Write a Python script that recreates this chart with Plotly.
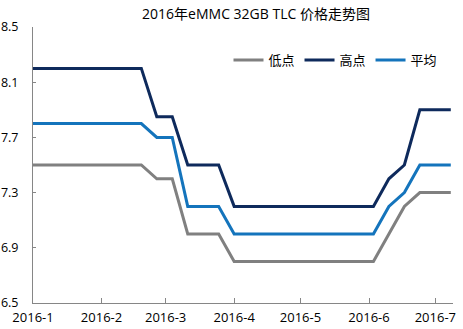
import plotly.graph_objects as go
import pandas as pd

dates = pd.date_range("2016-01-01", periods=28, freq="7D")
low = [7.5]*8 + [7.4, 7.4] + [7.0]*3 + [6.8]*10 + [7.0, 7.2] + [7.3]*3
high = [8.2]*8 + [7.85, 7.85] + [7.5]*3 + [7.2]*10 + [7.4, 7.5] + [7.9]*3
avg = [7.8]*8 + [7.7, 7.7] + [7.2]*3 + [7.0]*10 + [7.2, 7.3] + [7.5]*3

month_ticks = pd.date_range("2016-01-01", periods=7, freq="MS")
month_labels = ["2016-1", "2016-2", "2016-3", "2016-4", "2016-5", "2016-6", "2016-7"]
y_ticks = [6.5, 6.9, 7.3, 7.7, 8.1, 8.5]

font = "Open Sans, Noto Sans CJK SC, sans-serif"

fig = go.Figure()
for name, vals, color in [("低点", low, "#808080"), ("高点", high, "#0E2A5C"), ("平均", avg, "#1474BC")]:
    fig.add_trace(go.Scatter(x=dates, y=vals, name=name, mode="lines",
                             line=dict(color=color, width=3)))

fig.update_layout(
    width=463, height=329,
    margin=dict(l=33, r=10, t=27, b=26),
    paper_bgcolor="white", plot_bgcolor="white",
    font=dict(family=font, size=13, color="#000000"),
    title=dict(text="2016年eMMC 32GB TLC 价格走势图", x=0.553, xanchor="center",
               y=0.957, yanchor="middle", font=dict(family=font, size=14)),
    showlegend=True,
    legend=dict(orientation="h", x=0.975, xanchor="right", y=0.88, yanchor="middle",
                font=dict(family=font, size=13), bgcolor="rgba(0,0,0,0)",
                itemwidth=30, tracegroupgap=0),
)
fig.update_xaxes(
    range=["2016-01-01", "2016-07-09"], automargin=False,
    tickvals=month_ticks, ticktext=month_labels,
    showgrid=False, zeroline=False,
    showline=True, linecolor="#868686", linewidth=1,
    ticks="inside", ticklen=5, tickcolor="#868686",
    tickfont=dict(size=13), ticklabelstandoff=2,
)
fig.update_yaxes(
    range=[6.5, 8.5], tickvals=y_ticks, ticktext=["6.5", "6.9", "7.3", "7.7", "8.1", "8.5"],
    automargin=False,
    showgrid=False, zeroline=False,
    showline=True, linecolor="#868686", linewidth=1,
    ticks="inside", ticklen=3, tickcolor="#868686",
    tickfont=dict(size=12.5), ticklabelstandoff=11,
)

fig.write_html("out.html")
